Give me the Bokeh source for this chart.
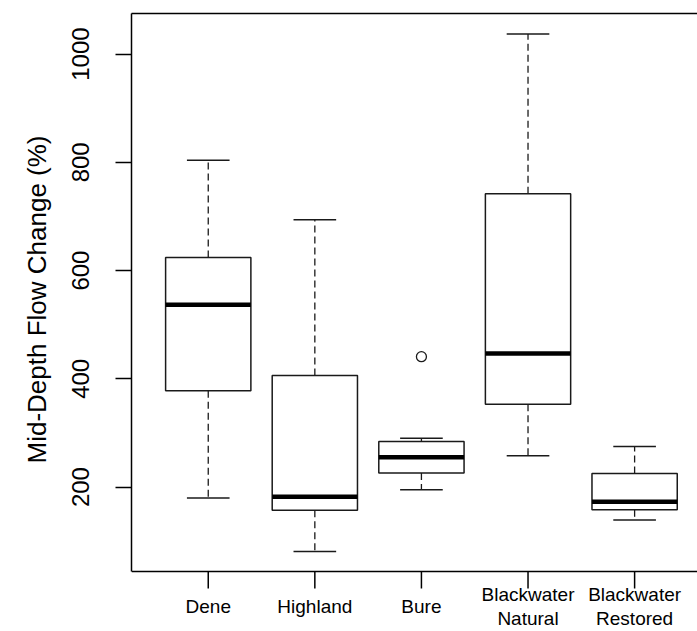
from bokeh.plotting import figure
from bokeh.models import Range1d, FixedTicker, LinearAxis, Span, Title
from bokeh.core.properties import value
from bokeh.embed import file_html
from bokeh.resources import INLINE

# Flow change per river: five-number summaries and outliers
categories = ["Dene", "Highland", "Bure", "Blackwater\nNatural", "Blackwater\nRestored"]
lower_whisker = [180, 81, 195, 258, 139]
q1 = [378, 157, 226, 353, 158]
median = [537, 182, 255, 447, 173]
q3 = [624, 406, 284, 742, 225]
upper_whisker = [804, 694, 290, 1037, 275]
outlier_group = [3]
outlier_value = [441]
y_ticks = [200, 400, 600, 800, 1000]
y_title = "Mid-Depth Flow Change (%)"

FONT = "Liberation Sans"
BOX_W = 0.8
CAP_W = 0.4
LINE = "#1a1a1a"

# plotting box (R-style 4% padding around the data)
Y_LO, Y_HI = 44, 1075
X_LO, X_HI = 0.28, 5.59
W, H = 697, 631
TOP, LEFT = 13, 131
BOX_BOTTOM_PX = 571
px_per_unit = (BOX_BOTTOM_PX - TOP) / (Y_HI - Y_LO)
# the frame runs to the bottom of the canvas so the category names can sit below the box
y_frame_lo = Y_HI - (H - TOP) / px_per_unit

xs = list(range(1, len(categories) + 1))

p = figure(width=W, height=H, output_backend="svg", toolbar_location=None,
           x_range=Range1d(X_LO, X_HI), y_range=Range1d(y_frame_lo, Y_HI),
           min_border_left=LEFT, min_border_right=0, min_border_top=TOP,
           min_border_bottom=0, background_fill_color="white",
           border_fill_color="white")
p.outline_line_color = None
p.grid.visible = False
p.xaxis.visible = False
p.yaxis.visible = False

# left axis with rotated labels, line limited to the box
yax = LinearAxis(ticker=FixedTicker(ticks=y_ticks), bounds=(Y_LO, Y_HI))
yax.axis_line_width = 1.5
yax.major_tick_line_width = 1.5
yax.major_tick_out = 16
yax.major_tick_in = 0
yax.minor_tick_line_color = None
yax.major_label_orientation = "vertical"
yax.major_label_standoff = 26
yax.major_label_text_font = FONT
yax.major_label_text_font_size = "24px"
yax.major_label_text_color = "black"
p.add_layout(yax, "left")

# axis title, starting near the lower part of the box and reading upward
p.add_layout(Title(text=y_title, align="left", offset=168,
                   text_font=FONT, text_font_size="26px",
                   text_font_style="normal", text_color="black",
                   standoff=35), "left")

# top border line
tax = LinearAxis(ticker=FixedTicker(ticks=[]))
tax.axis_line_width = 1.5
tax.major_tick_out = 0
tax.major_tick_in = 0
tax.minor_tick_line_color = None
tax.major_label_text_font_size = "0px"
tax.major_label_standoff = 0
p.add_layout(tax, "above")

# bottom border and category ticks
p.add_layout(Span(location=Y_LO, dimension="width", line_color="black",
                  line_width=1.5))
TICK_PX = 17
tick_end = Y_LO - TICK_PX / px_per_unit
p.segment(x0=xs, y0=[Y_LO] * len(xs), x1=xs, y1=[tick_end] * len(xs),
          line_color="black", line_width=1.5)

# whiskers
p.segment(x0=xs, y0=q3, x1=xs, y1=upper_whisker, line_color=LINE,
          line_width=1.3, line_dash="7 4")
p.segment(x0=xs, y0=q1, x1=xs, y1=lower_whisker, line_color=LINE,
          line_width=1.3, line_dash="7 4")
# caps
p.segment(x0=[x - CAP_W / 2 for x in xs], y0=upper_whisker,
          x1=[x + CAP_W / 2 for x in xs], y1=upper_whisker,
          line_color=LINE, line_width=1.5)
p.segment(x0=[x - CAP_W / 2 for x in xs], y0=lower_whisker,
          x1=[x + CAP_W / 2 for x in xs], y1=lower_whisker,
          line_color=LINE, line_width=1.5)
# boxes
p.vbar(x=xs, width=BOX_W, bottom=q1, top=q3, fill_color="white",
       line_color=LINE, line_width=1.5)
# medians
p.segment(x0=[x - BOX_W / 2 for x in xs], y0=median,
          x1=[x + BOX_W / 2 for x in xs], y1=median,
          line_color="black", line_width=4.5, line_cap="butt")
# outliers
p.scatter(x=outlier_group, y=outlier_value, marker="circle", size=10,
          fill_color="white", line_color=LINE, line_width=1.3)

# category names under the ticks, each block centred on one line position
LINE_H = 24
CENTER_PX = 35
lx, ly, lt = [], [], []
for x, name in zip(xs, categories):
    lines = name.split("\n")
    n = len(lines)
    for k, txt in enumerate(lines):
        off = CENTER_PX + (k - (n - 1) / 2) * LINE_H
        lx.append(x)
        ly.append(Y_LO - off / px_per_unit)
        lt.append(txt)
p.text(x=lx, y=ly, text=lt, text_align="center", text_baseline="middle",
       text_font=value(FONT), text_font_size=value("19px"), text_color="black")

open("out.html", "w").write(file_html(p, INLINE))
